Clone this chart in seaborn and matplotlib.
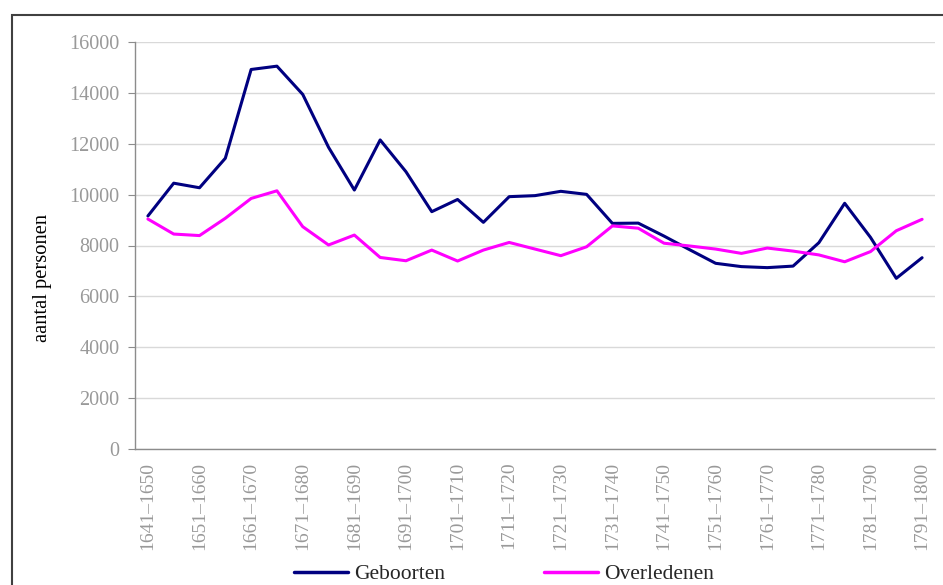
import numpy as np
import pandas as pd
import matplotlib
matplotlib.use('Agg')
import matplotlib.pyplot as plt
from matplotlib.patches import Rectangle
import seaborn as sns

# periodes (overlappende decennia, om de vijf jaar)
starts = list(range(1641, 1796, 5))
perioden = [f"{s}\u2013{s + 9}" for s in starts]

geboorten = [9160, 10450, 10270, 11430, 14920, 15050, 13940, 11860, 10180, 12150,
             10900, 9330, 9810, 8910, 9920, 9960, 10130, 10010, 8870, 8880,
             8370, 7830, 7300, 7170, 7130, 7190, 8110, 9660, 8320, 6710, 7520]
overledenen = [9040, 8450, 8390, 9070, 9850, 10150, 8740, 8020, 8410, 7530,
               7400, 7820, 7390, 7820, 8120, 7860, 7600, 7950, 8770, 8680,
               8090, 7980, 7860, 7690, 7900, 7780, 7630, 7360, 7760, 8580, 9030]

df = pd.DataFrame({
    'idx': list(range(len(perioden))) * 2,
    'waarde': geboorten + overledenen,
    'reeks': ['Geboorten'] * len(perioden) + ['Overledenen'] * len(perioden),
})

sns.set_style('white')
plt.rcParams['font.family'] = ['Liberation Serif', 'DejaVu Serif']

W, H = 943, 585
fig = plt.figure(figsize=(W / 100, H / 100), dpi=100)
ax = fig.add_axes([135 / W, 1 - 449 / H, 800 / W, 407 / H])

sns.lineplot(data=df, x='idx', y='waarde', hue='reeks',
             palette={'Geboorten': '#000080', 'Overledenen': '#ff00ff'},
             linewidth=2.2, ax=ax, legend=False)

grey = '#999999'
ax.set_xlim(-0.5, len(perioden) - 0.5)
ax.set_ylim(0, 16000)
ax.set_yticks(range(0, 16001, 2000))
ax.yaxis.grid(True, color='#d9d9d9', linewidth=1)
ax.set_axisbelow(True)

ax.set_xticks(range(0, len(perioden), 2))
ax.set_xticklabels(perioden[::2], rotation=90)
ax.set_xticks(np.arange(-0.5, len(perioden)), minor=True)
ax.tick_params(axis='x', which='major', length=0, pad=9, labelsize=14, labelcolor=grey)
ax.tick_params(axis='x', which='minor', length=5, color='#8c8c8c', direction='out')
ax.tick_params(axis='y', length=5, color='#8c8c8c', labelsize=14.5, labelcolor=grey, pad=6, left=True)

for s in ['top', 'right']:
    ax.spines[s].set_visible(False)
for s in ['left', 'bottom']:
    ax.spines[s].set_color('#8c8c8c')
    ax.spines[s].set_linewidth(1)

ax.set_xlabel('')
ax.set_ylabel('aantal personen', fontsize=14.8, color='black')
ax.yaxis.set_label_coords(-0.104, 0.42)

# legenda
handles = [plt.Line2D([], [], color='#000080', lw=2.5),
           plt.Line2D([], [], color='#ff00ff', lw=2.5)]
fig.legend(handles, ['Geboorten', 'Overledenen'], loc='center', ncol=2,
           bbox_to_anchor=(504 / W, 1 - 574 / H), frameon=False, fontsize=15.5,
           handlelength=2.5, handletextpad=0.3, columnspacing=4.6)

# kader rond de figuur
fig.add_artist(Rectangle((12 / W, -0.1), 2, 1 - 15 / H + 0.1, fill=False,
                         ec='#404040', lw=1.5, transform=fig.transFigure))

fig.savefig('out.png', dpi=100)
